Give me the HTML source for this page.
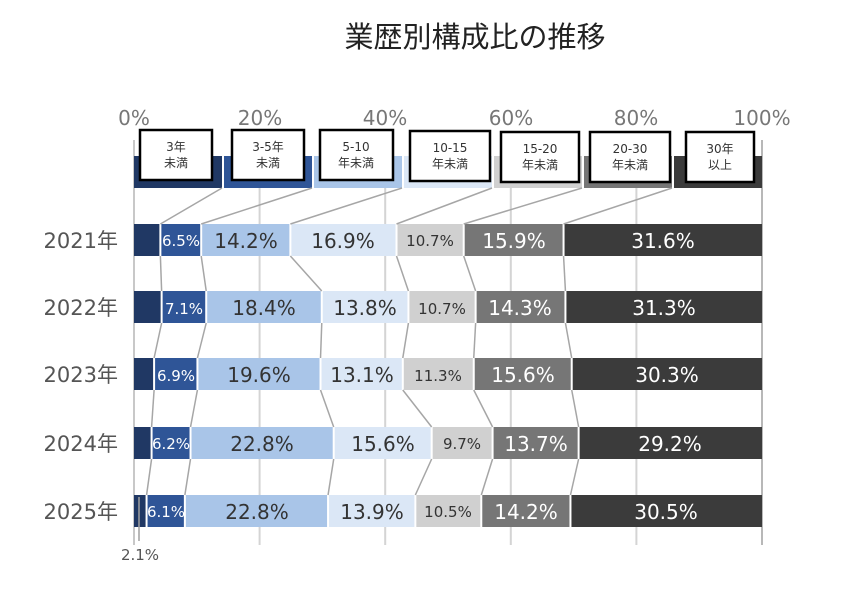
<!DOCTYPE html>
<html><head><meta charset="utf-8"><style>
html,body{margin:0;padding:0;background:#fff;}
svg{display:block;font-family:"DejaVu Sans","Noto Sans CJK JP",sans-serif;}
</style></head><body>
<svg id="s" width="854" height="596" viewBox="0 0 854 596" xmlns="http://www.w3.org/2000/svg">
<g id="grid"></g>
<g id="bars"></g>
<text x="475" y="47" font-size="29" text-anchor="middle" fill="#222" font-family="Noto Sans CJK JP, sans-serif">業歴別構成比の推移</text>
<g font-size="20" fill="#777" text-anchor="middle">
<text x="134" y="125">0%</text><text x="260" y="125">20%</text><text x="385" y="125">40%</text>
<text x="511" y="125">60%</text><text x="636" y="125">80%</text><text x="762" y="125">100%</text>
</g>
<g font-size="21" fill="#555" text-anchor="end">
<text x="118" y="248">2021年</text><text x="118" y="315">2022年</text><text x="118" y="382">2023年</text>
<text x="118" y="451">2024年</text><text x="118" y="519">2025年</text>
</g>
<g id="boxes" stroke="#000" stroke-width="2.5" fill="#fff">
<rect x="140" y="130" width="72" height="50"/><rect x="232" y="130" width="72" height="50"/>
<rect x="320" y="130" width="73" height="50"/><rect x="410" y="131" width="80" height="50"/>
<rect x="501" y="132" width="78" height="50"/><rect x="590" y="132" width="80" height="50"/>
<rect x="686" y="132" width="68" height="50"/>
</g>
<g font-size="12" fill="#333" text-anchor="middle">
<text x="176" y="151">3年</text><text x="176" y="167">未満</text>
<text x="268" y="151">3-5年</text><text x="268" y="167">未満</text>
<text x="356" y="151">5-10</text><text x="356" y="167">年未満</text>
<text x="450" y="152">10-15</text><text x="450" y="168">年未満</text>
<text x="540" y="153">15-20</text><text x="540" y="169">年未満</text>
<text x="630" y="153">20-30</text><text x="630" y="169">年未満</text>
<text x="720" y="153">30年</text><text x="720" y="169">以上</text>
</g>
<g text-anchor="middle">
<text x="181" y="246" font-size="15" fill="#fff">6.5%</text>
<text x="246" y="248" font-size="20" fill="#333">14.2%</text>
<text x="343" y="248" font-size="20" fill="#333">16.9%</text>
<text x="430" y="246" font-size="15" fill="#333">10.7%</text>
<text x="514" y="248" font-size="20" fill="#fff">15.9%</text>
<text x="663" y="248" font-size="20" fill="#fff">31.6%</text>

<text x="184" y="314" font-size="15" fill="#fff">7.1%</text>
<text x="264" y="315" font-size="20" fill="#333">18.4%</text>
<text x="365" y="315" font-size="20" fill="#333">13.8%</text>
<text x="442" y="314" font-size="15" fill="#333">10.7%</text>
<text x="520" y="315" font-size="20" fill="#fff">14.3%</text>
<text x="664" y="315" font-size="20" fill="#fff">31.3%</text>

<text x="176" y="381" font-size="15" fill="#fff">6.9%</text>
<text x="259" y="382" font-size="20" fill="#333">19.6%</text>
<text x="362" y="382" font-size="20" fill="#333">13.1%</text>
<text x="438" y="381" font-size="15" fill="#333">11.3%</text>
<text x="523" y="382" font-size="20" fill="#fff">15.6%</text>
<text x="667" y="382" font-size="20" fill="#fff">30.3%</text>

<text x="171" y="449" font-size="15" fill="#fff">6.2%</text>
<text x="262" y="451" font-size="20" fill="#333">22.8%</text>
<text x="383" y="451" font-size="20" fill="#333">15.6%</text>
<text x="462" y="449" font-size="15" fill="#333">9.7%</text>
<text x="536" y="451" font-size="20" fill="#fff">13.7%</text>
<text x="670" y="451" font-size="20" fill="#fff">29.2%</text>

<text x="166" y="517" font-size="15" fill="#fff">6.1%</text>
<text x="257" y="519" font-size="20" fill="#333">22.8%</text>
<text x="372" y="519" font-size="20" fill="#333">13.9%</text>
<text x="448" y="517" font-size="15" fill="#333">10.5%</text>
<text x="526" y="519" font-size="20" fill="#fff">14.2%</text>
<text x="666" y="519" font-size="20" fill="#fff">30.5%</text>

<text x="140" y="560" font-size="15" fill="#555">2.1%</text>
</g>
<script>
(function(){
var NS="http://www.w3.org/2000/svg";
function el(p,n,a){var e=document.createElementNS(NS,n);for(var k in a)e.setAttribute(k,a[k]);p.appendChild(e);return e;}
var g=document.getElementById('grid'),b=document.getElementById('bars');
var X=function(p){return 134+6.28*p;};
[20,40,60,80].forEach(function(p){el(g,'line',{x1:X(p),x2:X(p),y1:140,y2:545,stroke:'#d4d4d4','stroke-width':2});});
el(g,'line',{x1:134,x2:134,y1:140,y2:545,stroke:'#c8c8c8','stroke-width':2});
el(g,'line',{x1:762,x2:762,y1:140,y2:545,stroke:'#b8b8b8','stroke-width':2});
var cols=['#203864','#2f5597','#a9c5e8','#dbe7f6','#d0d0d0','#767676','#3b3b3b'];
var data=[[4.2,6.5,14.2,16.9,10.7,15.9,31.6],[4.4,7.1,18.4,13.8,10.7,14.3,31.3],[3.2,6.9,19.6,13.1,11.3,15.6,30.3],[2.8,6.2,22.8,15.6,9.7,13.7,29.2],[2.0,6.1,22.8,13.9,10.5,14.2,30.5]];
var ys=[224,291,358,427,495],h=32;
var lx=[134,224,314,404,494,584,674,762];
for(var i=0;i<7;i++)el(b,'rect',{x:lx[i],y:156,width:(i==6?762:lx[i+1]-2)-lx[i],height:32,fill:cols[i]});
var bounds=data.map(function(d){var c=0,r=[134];d.forEach(function(v){c+=v;r.push(X(c));});r[7]=762;return r;});
data.forEach(function(d,j){var r=bounds[j];for(var i=0;i<7;i++){el(b,'rect',{x:r[i]+(i?1:0),y:ys[j],width:r[i+1]-r[i]-(i?1:0)-(i<6?1:0),height:h,fill:cols[i]});}});
for(var i=1;i<7;i++){
 el(b,'line',{x1:lx[i]-2,y1:188,x2:bounds[0][i],y2:224,stroke:'#a6a6a6','stroke-width':1.5});
 for(var j=0;j<4;j++)el(b,'line',{x1:bounds[j][i],y1:ys[j]+h,x2:bounds[j+1][i],y2:ys[j+1],stroke:'#a6a6a6','stroke-width':1.5});
}
el(b,'line',{x1:139,y1:497,x2:139,y2:541,stroke:'#a0a0a0','stroke-width':1.5});
})();
</script>
</svg>
</body></html>
